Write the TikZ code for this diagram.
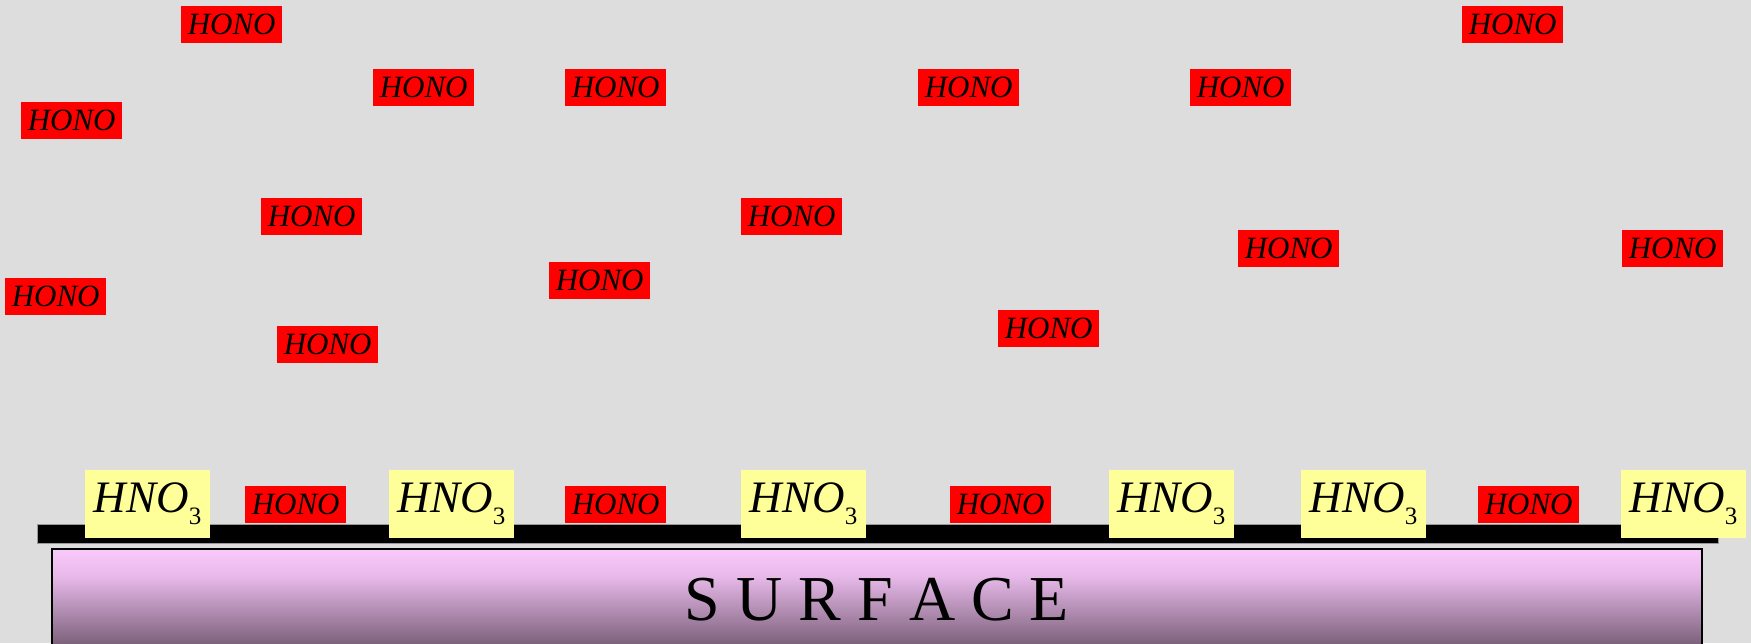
\documentclass[tikz,border=0pt]{standalone}
\usepackage{fontspec}
\setmainfont{Liberation Serif}
\definecolor{bg}{HTML}{DDDDDD}
\definecolor{hnoyellow}{HTML}{FFFF99}
\definecolor{surftop}{HTML}{FAC9FC}
\definecolor{surfmid}{HTML}{E6B8E8}
\definecolor{surfbot}{HTML}{735A72}
\begin{document}
\begin{tikzpicture}[x=1pt,y=-1pt,
  hono/.style={fill=red, inner sep=0pt, minimum width=101pt, minimum height=37pt,
    anchor=north west, font=\fontsize{31}{31}\selectfont\itshape},
  nitric/.style={fill=hnoyellow, inner sep=0pt, minimum width=125pt, minimum height=68pt,
    anchor=north west, font=\fontsize{45}{45}\selectfont\itshape},
  surflabel/.style={inner sep=0pt, font=\fontsize{64}{64}\selectfont},
  layerbar/.style={fill=black, draw=gray!80, line width=1pt},
  surfbox/.style={draw=black, line width=2pt}]
\useasboundingbox[fill=bg] (0,0) rectangle (1751,643);
% surface block
\shade[top color=surftop, bottom color=surfmid] (52,549) rectangle (1702,577.5);
\shade[top color=surfmid, bottom color=surfbot] (52,577) rectangle (1702,650);
\draw[surfbox] (52,549) rectangle (1702,662);
\node[surflabel] (surf) at (877,600) {S U R F A C E};
% black layer
\draw[layerbar] (37,524) rectangle (1718,543);
% gas-phase HONO
\node[hono] (g1) at (181,6) {HONO};
\node[hono] (g2) at (373,69) {HONO};
\node[hono] (g3) at (565,69) {HONO};
\node[hono] (g4) at (21,102) {HONO};
\node[hono] (g5) at (918,69) {HONO};
\node[hono] (g6) at (1190,69) {HONO};
\node[hono] (g7) at (1462,6) {HONO};
\node[hono] (g8) at (261,198) {HONO};
\node[hono] (g9) at (741,198) {HONO};
\node[hono] (g10) at (1238,230) {HONO};
\node[hono] (g11) at (1622,230) {HONO};
\node[hono] (g12) at (5,278) {HONO};
\node[hono] (g13) at (549,262) {HONO};
\node[hono] (g14) at (277,326) {HONO};
\node[hono] (g15) at (998,310) {HONO};
% surface HONO
\node[hono] (s1) at (245,486) {HONO};
\node[hono] (s2) at (565,486) {HONO};
\node[hono] (s3) at (950,486) {HONO};
\node[hono] (s4) at (1478,486) {HONO};
% HNO3
\newcommand{\nitricacid}{HNO\raisebox{-12pt}{\fontsize{25}{25}\selectfont\upshape 3}}
\node[nitric] (n1) at (85,470) {\nitricacid};
\node[nitric] (n2) at (389,470) {\nitricacid};
\node[nitric] (n3) at (741,470) {\nitricacid};
\node[nitric] (n4) at (1109,470) {\nitricacid};
\node[nitric] (n5) at (1301,470) {\nitricacid};
\node[nitric] (n6) at (1621,470) {\nitricacid};
\end{tikzpicture}
\end{document}
